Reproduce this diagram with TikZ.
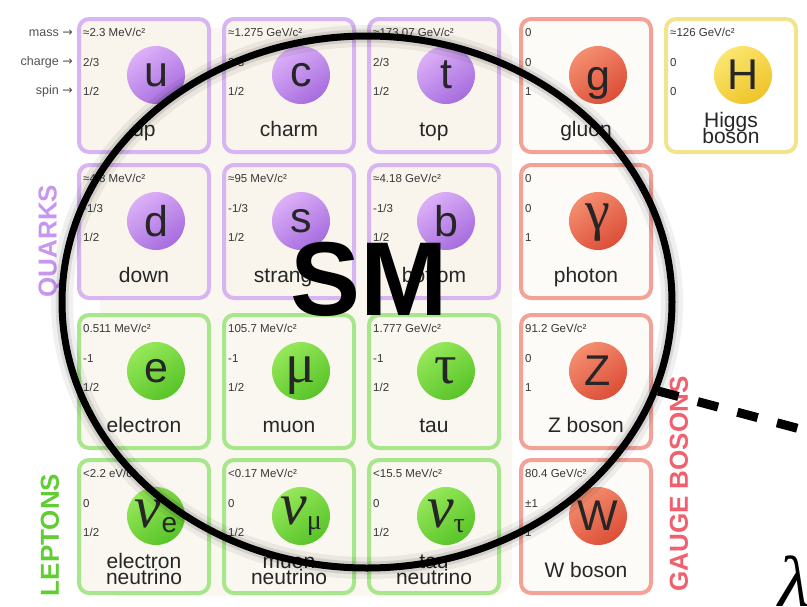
\documentclass[tikz,border=0pt]{standalone}
\usepackage{fontspec}
\setmainfont{Liberation Sans}
\newfontfamily\greekfont{Liberation Serif}
\newfontfamily\arrowfont{DejaVu Sans}
\usepackage{tikz}
\usetikzlibrary{shapes.geometric, positioning, calc}

\definecolor{quarkline}{RGB}{215,180,242}
\definecolor{quarkfill}{RGB}{249,245,236}
\definecolor{quarktop}{RGB}{220,176,248}
\definecolor{quarkbot}{RGB}{166,108,222}
\definecolor{leptonline}{RGB}{168,230,140}
\definecolor{leptonfill}{RGB}{249,247,240}
\definecolor{leptontop}{RGB}{150,232,90}
\definecolor{leptonbot}{RGB}{88,196,40}
\definecolor{bosonline}{RGB}{242,162,150}
\definecolor{bosonfill}{RGB}{253,251,248}
\definecolor{bosontop}{RGB}{244,142,112}
\definecolor{bosonbot}{RGB}{220,78,55}
\definecolor{higgsline}{RGB}{242,228,140}
\definecolor{higgsfill}{RGB}{255,255,255}
\definecolor{higgstop}{RGB}{252,230,112}
\definecolor{higgsbot}{RGB}{238,196,40}
\definecolor{quarkword}{RGB}{198,150,240}
\definecolor{leptonword}{RGB}{96,206,50}
\definecolor{bosonword}{RGB}{240,96,110}
\definecolor{valgray}{RGB}{55,55,55}
\definecolor{keygray}{RGB}{80,80,80}
\definecolor{fermionbg}{RGB}{250,247,240}

% symbols with a descender sit on a fixed strut (height, depth), so that the ink is centred
\newcommand{\greeksym}[3]{\raisebox{0pt}[#1][#2]{\greekfont\fontsize{56}{56}\selectfont #3}}
\newcommand{\tausym}{{\greekfont\fontsize{56}{56}\selectfont τ}}
\newcommand{\lowsym}[3]{\raisebox{0pt}[#1][#2]{#3}}
\newcommand{\nusym}[1]{{\greekfont\itshape\fontsize{60}{60}\selectfont ν}\raisebox{-5pt}{\fontsize{28}{28}\selectfont #1}}
\newcommand{\twoname}[2]{\raisebox{-7.5pt}{\vbox{\lineskiplimit=-100pt\baselineskip=16pt
  \hbox to 0pt{\hss#1\hss}\hbox to 0pt{\hss#2\hss}}}}
\newcommand{\pcard}[9]{%
  \node[card=#4] (#1) at (#2+67,#3+68.5) {};
  \node[valtext] (#1-mass) at (#2+6,#3+19) {#5};
  \node[valtext] (#1-charge) at (#2+6,#3+49) {#6};
  \node[valtext] (#1-spin) at (#2+6,#3+78) {#7};
  \node[ball=#4] (#1-sym) at (#2+79,#3+58) {#8};
  \node[nametext] (#1-name) at (#2+67,#3+119) {#9};
}

\begin{document}
\begin{tikzpicture}[x=1pt, y=-1pt,
    card/.style={draw=#1line, fill=#1fill, line width=4pt, rounded corners=10pt,
      minimum width=130pt, minimum height=133pt, inner sep=0pt, outer sep=0pt},
    ball/.style={circle, minimum size=58pt, inner sep=0pt, top color=#1top,
      bottom color=#1bot, shading angle=35, text=black!85,
      font=\fontsize{43}{43}\selectfont},
    valtext/.style={anchor=base west, inner sep=0pt, text=valgray,
      font=\fontsize{11.5}{12}\selectfont},
    keytext/.style={anchor=base east, inner sep=0pt, text=keygray,
      font=\fontsize{12.5}{13}\selectfont},
    nametext/.style={anchor=base, inner sep=0pt, text=black!85,
      font=\fontsize{21}{16}\selectfont},
    groupword/.style={rotate=90, inner sep=0pt, font=\fontsize{26}{26}\selectfont\bfseries},
    smring/.style={ellipse, draw=black, line width=7pt, minimum width=610pt,
      minimum height=532pt, inner sep=0pt},
    dashline/.style={line width=9pt, dash pattern=on 21pt off 20pt}]
  \useasboundingbox (0,0) rectangle (807,606);
  \clip (0,0) rectangle (807,606);

  % faint background behind the fermions
  \fill[fermionbg, rounded corners=20pt] (100,28) rectangle (512,596);

  % property keys
  \node[keytext] (mass-key) at (73,36) {mass {\arrowfont→}};
  \node[keytext] (charge-key) at (73,65) {charge {\arrowfont→}};
  \node[keytext] (spin-key) at (73,94) {spin {\arrowfont→}};

  % particle cards
  \pcard{up}{77}{17}{quark}{≈2.3 MeV/c²}{2/3}{1/2}{u}{up}
  \pcard{charm}{222}{17}{quark}{≈1.275 GeV/c²}{2/3}{1/2}{c}{charm}
  \pcard{top}{367}{17}{quark}{≈173.07 GeV/c²}{2/3}{1/2}{t}{top}
  \pcard{gluon}{519}{17}{boson}{0}{0}{1}{\lowsym{31pt}{1pt}{g}}{gluon}
  \pcard{higgs}{664}{17}{higgs}{≈126 GeV/c²}{0}{0}{H}{\twoname{Higgs}{boson}}
  \pcard{down}{77}{163}{quark}{≈4.8 MeV/c²}{-1/3}{1/2}{d}{down}
  \pcard{strange}{222}{163}{quark}{≈95 MeV/c²}{-1/3}{1/2}{s}{strange}
  \pcard{bottom}{367}{163}{quark}{≈4.18 GeV/c²}{-1/3}{1/2}{b}{bottom}
  \pcard{photon}{519}{163}{boson}{0}{0}{1}{\greeksym{25pt}{8pt}{γ}}{photon}
  \pcard{electron}{77}{313}{lepton}{0.511 MeV/c²}{-1}{1/2}{e}{electron}
  \pcard{muon}{222}{313}{lepton}{105.7 MeV/c²}{-1}{1/2}{\greeksym{27pt}{4pt}{μ}}{muon}
  \pcard{tau}{367}{313}{lepton}{1.777 GeV/c²}{-1}{1/2}{\tausym}{tau}
  \pcard{zboson}{519}{313}{boson}{91.2 GeV/c²}{0}{1}{Z}{Z boson}
  \pcard{enu}{77}{458}{lepton}{<2.2 eV/c²}{0}{1/2}{\nusym{e}}{\twoname{electron}{neutrino}}
  \pcard{munu}{222}{458}{lepton}{<0.17 MeV/c²}{0}{1/2}{\nusym{\greekfont μ}}{\twoname{muon}{neutrino}}
  \pcard{taunu}{367}{458}{lepton}{<15.5 MeV/c²}{0}{1/2}{\nusym{\greekfont τ}}{\twoname{tau}{neutrino}}
  \pcard{wboson}{519}{458}{boson}{80.4 GeV/c²}{±1}{1}{W}{W boson}

  % group words
  \node[groupword, text=quarkword] (quarks) at (50,241) {QUARKS};
  \node[groupword, text=leptonword] (leptons) at (50,535) {LEPTONS};
  \node[groupword, text=bosonword] (bosons) at (679,484) {GAUGE BOSONS};

  % the SM ring
  \node[smring, draw=black, draw opacity=0.06, line width=22pt] (sm-glow) at (367,302) {};
  \node[smring, draw=black, draw opacity=0.10, line width=13pt] (sm-shadow) at (367,302) {};
  \node[smring] (sm) at (367,302) {};
  \node[inner sep=0pt, font=\fontsize{105}{105}\selectfont\bfseries] (sm-label) at (369,279) {SM};

  % dashed line off to lambda
  \coordinate (far-end) at (830,437);
  \draw[dashline] (sm.-17) -- (far-end);
  \node[anchor=base west, inner sep=0pt, font=\greekfont\itshape\fontsize{72}{72}\selectfont] (lambda) at (778,606) {λ};
\end{tikzpicture}
\end{document}
